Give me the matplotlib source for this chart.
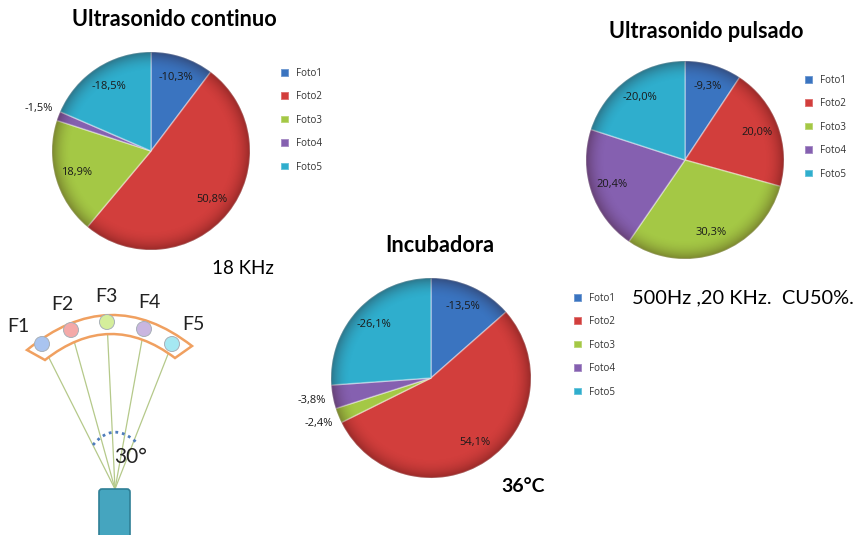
import numpy as np
import matplotlib
matplotlib.use("Agg")
import matplotlib.pyplot as plt
from matplotlib.patches import Circle, FancyBboxPatch, PathPatch
from matplotlib.path import Path

plt.rcParams['font.family'] = ['Lato', 'DejaVu Sans']

W, H = 859, 535

# datos de las tortas
fotos = ['Foto1', 'Foto2', 'Foto3', 'Foto4', 'Foto5']
continuo = [-10.3, 50.8, 18.9, -1.5, -18.5]
pulsado = [-9.3, 20.0, 30.3, 20.4, -20.0]
incubadora = [-13.5, 54.1, -2.4, -3.8, -26.1]
colores = ['#3A74C0', '#D23E3C', '#A4C845', '#8560B0', '#2FAECD']

# esquema del transductor
focos = ['F1', 'F2', 'F3', 'F4', 'F5']
focos_x = [42, 71, 107, 144, 172]
focos_y = [344, 330, 322, 329, 344]
focos_col = ['#A9C4F0', '#F4A9A8', '#D5EE9B', '#C9B6E0', '#A5E8F2']
focos_txt_x = [18, 62, 106, 149, 193]
focos_txt_y = [326, 304, 297, 303, 325]

fig = plt.figure(figsize=(W / 100, H / 100), dpi=100, facecolor='white')

# capa de fondo en pixeles para el esquema y los textos
fondo = fig.add_axes([0, 0, 1, 1])
fondo.set_xlim(0, W)
fondo.set_ylim(H, 0)
fondo.axis('off')


def torta(valores, cx, cy, r, leg_x, leg_y):
    m = 1.3
    ax = fig.add_axes([(cx - m * r) / W, 1 - (cy + m * r) / H, 2 * m * r / W, 2 * m * r / H])
    wedges, _ = ax.pie(np.abs(valores), colors=colores, startangle=90, counterclock=False,
                       wedgeprops=dict(edgecolor='#FFFFFF60', linewidth=1.1))
    # sombreado hacia el borde
    g = np.linspace(-1, 1, 300)
    xx, yy = np.meshgrid(g, g)
    rr = np.hypot(xx, yy)
    img = np.zeros(rr.shape + (4,))
    img[..., 0] = 0.15
    img[..., 3] = np.clip((rr - 0.8) / 0.2, 0, 1) ** 2 * 0.32
    im = ax.imshow(img, extent=(-1, 1, -1, 1), origin='lower', zorder=5)
    im.set_clip_path(Circle((0, 0), 1, transform=ax.transData))
    ax.set_xlim(-m, m)
    ax.set_ylim(-m, m)
    ax.axis('off')

    # etiquetas en el angulo medio de cada sector
    total = np.sum(np.abs(valores))
    acum = 0
    for v in valores:
        frac = abs(v) / total
        ang = 2 * np.pi * (acum + frac / 2)
        acum += frac
        d = 1.21 if frac < 0.05 else 0.78
        txt = f"{v:.1f}%".replace('.', ',')
        ax.text(d * np.sin(ang), d * np.cos(ang), txt, ha='center', va='center',
                fontsize=8, color='#1a1a1a', family='Open Sans', zorder=6)

    ax.legend(wedges, fotos, loc='upper left', frameon=False, prop=dict(family='Open Sans', size=7),
              bbox_to_anchor=(leg_x / W, 1 - leg_y / H), bbox_transform=fig.transFigure,
              borderpad=0, borderaxespad=0, handlelength=0.85, handleheight=0.85,
              handletextpad=0.7, labelspacing=1.28, labelcolor='#333333')


torta(continuo, 151, 151, 99, 281, 68)
torta(pulsado, 685, 160, 99, 805, 75)
torta(incubadora, 431, 378, 100, 574, 293)

# titulos y notas
fondo.text(174, 20, 'Ultrasonido continuo', ha='center', va='center', fontsize=15.6, fontweight='bold')
fondo.text(706, 31, 'Ultrasonido pulsado', ha='center', va='center', fontsize=15.6, fontweight='bold')
fondo.text(440, 246, 'Incubadora', ha='center', va='center', fontsize=15.6, fontweight='bold')
fondo.text(243, 268, '18 KHz', ha='center', va='center', fontsize=13.5)
fondo.text(632, 298, '500Hz ,20 KHz.  CU50%.', ha='left', va='center', fontsize=14.4)
fondo.text(523, 486, '36°C', ha='center', va='center', fontsize=14, fontweight='bold')

# banda curva
banda = Path([(27, 350), (110, 282), (192, 346), (175, 358), (110, 309), (45, 360), (27, 350)],
             [Path.MOVETO, Path.CURVE3, Path.CURVE3, Path.LINETO, Path.CURVE3, Path.CURVE3, Path.CLOSEPOLY])
fondo.add_patch(PathPatch(banda, facecolor='white', edgecolor='#F0A060', linewidth=1.8, zorder=2))

# haces, focos y transductor
for x, y in zip(focos_x, focos_y):
    fondo.plot([115, x], [489, y], color='#B5C98A', linewidth=0.9, zorder=1)
for x, y, c, nombre, tx, ty in zip(focos_x, focos_y, focos_col, focos, focos_txt_x, focos_txt_y):
    fondo.add_patch(Circle((x, y), 7.5, facecolor=c, edgecolor='#A8B0B8', linewidth=0.7, zorder=3))
    fondo.text(tx, ty, nombre, ha='center', va='center', fontsize=14, color='#222222')

t = np.linspace(0, 1, 40)
fondo.plot((1 - t) ** 2 * 93 + 2 * t * (1 - t) * 113 + t ** 2 * 136,
           (1 - t) ** 2 * 445 + 2 * t * (1 - t) * 421 + t ** 2 * 442,
           color='#4F7DBB', linewidth=2, linestyle=(0, (1, 1.4)), zorder=2)
fondo.text(131, 457, '30°', ha='center', va='center', fontsize=15, color='#222222')
fondo.add_patch(FancyBboxPatch((102, 492), 25, 50, boxstyle='round,pad=3', facecolor='#45A5BF',
                               edgecolor='#2F7F96', linewidth=1.2, zorder=3))
fondo.set_xlim(0, W)
fondo.set_ylim(H, 0)

fig.savefig('out.png', dpi=100)
